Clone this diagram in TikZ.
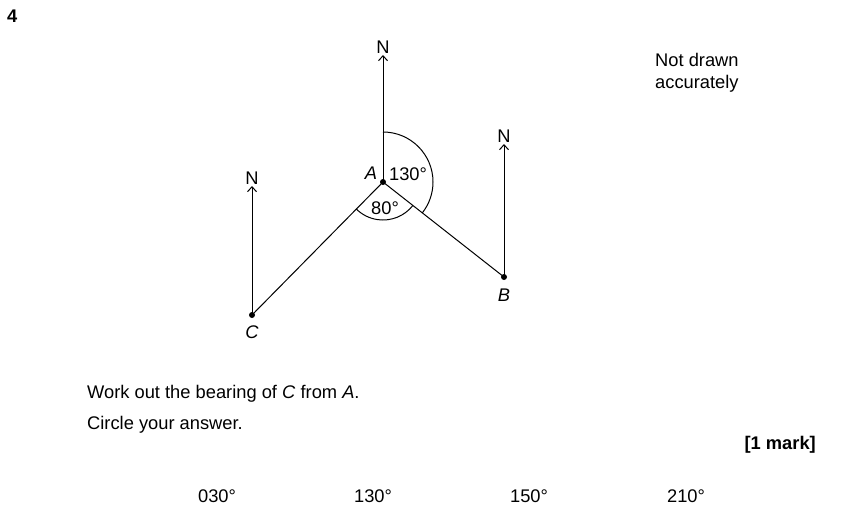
\documentclass[tikz,border=0pt]{standalone}
\usepackage{fontspec}
\setmainfont{Liberation Sans}
\usetikzlibrary{calc,arrows.meta}
\begin{document}
\begin{tikzpicture}[x=1pt,y=1pt,
  txt/.style={inner sep=0pt,font=\fontsize{18.3}{22}\selectfont},
  lbl/.style={inner sep=0pt,font=\fontsize{18.3}{22}\selectfont\itshape},
  northarrow/.style={line width=1pt,-{Straight Barb[length=5pt,width=9pt,line width=1pt]}},
  seg/.style={line width=1pt},
  dot/.style={circle,fill=black,inner sep=0pt,minimum size=6pt}]
\useasboundingbox (0,-525) rectangle (841,0);
\node[txt,font=\fontsize{18.3}{22}\selectfont\bfseries,anchor=west] (q) at (7,-16) {4};
% points
\node[dot] (A) at (383,-182) {};
\node[dot] (B) at (504,-277) {};
\node[dot] (C) at (252,-315) {};
\coordinate (An) at (383,-55);
\coordinate (Bn) at (504,-144);
\coordinate (Cn) at (252,-186);
\draw[northarrow] (A.center) -- (An);
\draw[northarrow] (B.center) -- (Bn);
\draw[northarrow] (C.center) -- (Cn);
\node[txt,anchor=south] (NA) at (383,-54) {N};
\node[txt,anchor=south] (NB) at (504,-143) {N};
\node[txt,anchor=south] (NC) at (252,-185) {N};
\draw[seg] (A.center) -- (B.center);
\draw[seg] (A.center) -- (C.center);
% arcs
\draw[seg] let \p1=($(B.center)-(A.center)$), \n1={atan2(\y1,\x1)} in
  ($(A.center)+(0,50)$) arc[start angle=90, end angle=\n1, radius=50];
\draw[seg] let \p1=($(B.center)-(A.center)$), \n1={atan2(\y1,\x1)},
  \p2=($(C.center)-(A.center)$), \n2={atan2(\y2,\x2)} in
  ($(A.center)+(\n1:38)$) arc[start angle=\n1, end angle=\n2, radius=38];
% labels
\node[lbl] (Al) at (371,-173) {A};
\node[lbl] (Bl) at (504,-295) {B};
\node[lbl] (Cl) at (252,-332) {C};
\node[txt] (a130) at (408,-174) {130°};
\node[txt] (a80) at (385,-208) {80°};
\node[txt,anchor=west,align=left] (nd) at (655,-73) {Not drawn\\accurately};
\node[txt,anchor=west] (w1) at (87,-394) {Work out the bearing of \textit{C} from \textit{A}.};
\node[txt,anchor=west] (w2) at (87,-425) {Circle your answer.};
\node[txt,font=\fontsize{18.3}{22}\selectfont\bfseries,anchor=east] (mk) at (816,-445) {[1 mark]};
\node[txt] (o1) at (217,-496) {030°};
\node[txt] (o2) at (373,-496) {130°};
\node[txt] (o3) at (529,-496) {150°};
\node[txt] (o4) at (686,-496) {210°};
\end{tikzpicture}
\end{document}
